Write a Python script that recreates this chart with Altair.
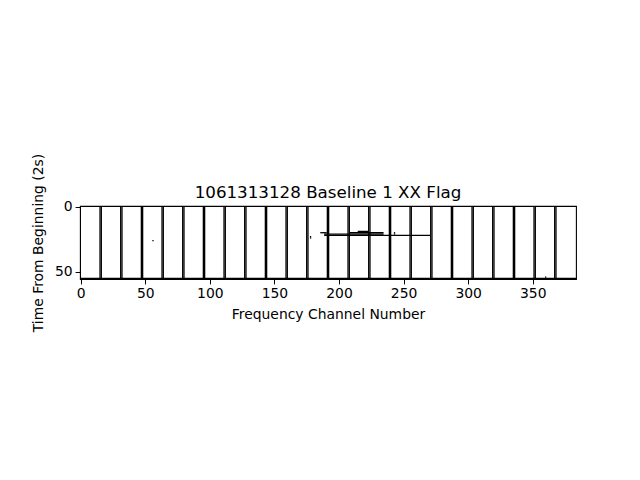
import altair as alt
import pandas as pd

n_chan = 384
n_time = 56

# channels flagged for every time step (coarse-channel edges)
edge_channels = [15, 16, 31, 32, 47, 48, 63, 64, 79, 80, 95, 96, 111, 112,
                 127, 128, 143, 144, 159, 160, 175, 176, 191, 192, 207, 208,
                 223, 224, 239, 240, 255, 256, 271, 272, 287, 288, 303, 304,
                 319, 320, 335, 336, 351, 352, 367, 368]
# time steps flagged for every channel
full_rows = [55]
# partial flagged runs: (row, first channel, last channel)
run_rows = [20, 21, 22, 20, 19, 20, 21, 23, 24, 26, 54]
run_start = [186, 189, 189, 209, 215, 243, 243, 178, 178, 56, 360]
run_end = [190, 234, 270, 234, 222, 243, 243, 178, 178, 56, 360]

recs = []
for c in edge_channels:
    recs.append(dict(x=c - 0.5, x2=c + 0.5, y=-0.5, y2=n_time - 0.5))
for r in full_rows:
    recs.append(dict(x=-0.5, x2=n_chan - 0.5, y=r - 0.5, y2=r + 0.5))
for r, a, b in zip(run_rows, run_start, run_end):
    recs.append(dict(x=a - 0.5, x2=b + 0.5, y=r - 0.5, y2=r + 0.5))
df = pd.DataFrame(recs)

FONT = "DejaVu Sans"

chart = alt.Chart(df).mark_rect(color="black", strokeWidth=0).encode(
    x=alt.X("x:Q", scale=alt.Scale(domain=[-0.5, n_chan - 0.5], nice=False, zero=False),
            axis=alt.Axis(values=[0, 50, 100, 150, 200, 250, 300, 350],
                          title="Frequency Channel Number", grid=False,
                          labelFont=FONT, titleFont=FONT, labelFontSize=13.9,
                          titleFontSize=13.9, titleFontWeight="normal",
                          labelColor="black", titleColor="black",
                          domainColor="black", tickColor="black",
                          tickSize=4.9, labelPadding=3, titlePadding=7,
                          labelFlush=False)),
    x2="x2:Q",
    y=alt.Y("y:Q", scale=alt.Scale(domain=[-0.5, n_time - 0.5], nice=False, zero=False, reverse=True),
            axis=alt.Axis(values=[0, 50], title="Time From Beginning (2s)", grid=False,
                          labelFont=FONT, titleFont=FONT, labelFontSize=13.9,
                          titleFontSize=13.9, titleFontWeight="normal",
                          labelColor="black", titleColor="black",
                          domainColor="black", tickColor="black",
                          tickSize=4.9, labelPadding=3, titlePadding=9,
                          labelFlush=False)),
    y2="y2:Q",
).properties(
    width=496,
    height=73,
    title=alt.TitleParams("1061313128 Baseline 1 XX Flag", font=FONT, fontSize=16.7,
                          fontWeight="normal", color="black", anchor="middle", offset=-48),
    autosize=alt.AutoSizeParams(type="none"),
    padding={"left": 80, "top": 206, "right": 64, "bottom": 201},
    background="white",
).configure_view(stroke="black", strokeWidth=1.1)

chart.save("out.html", embed_options={"renderer": "svg", "actions": False})
